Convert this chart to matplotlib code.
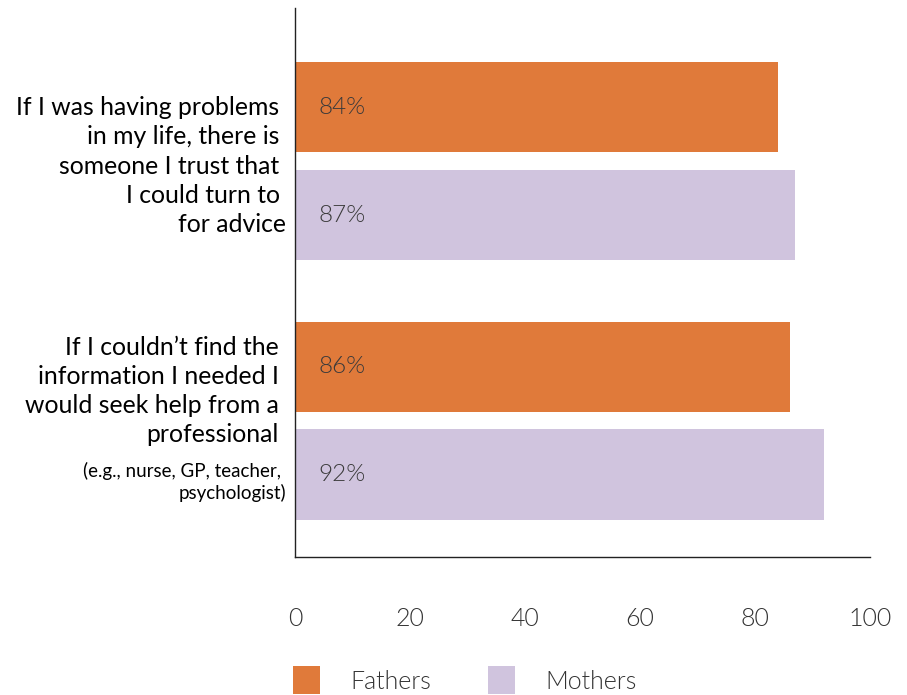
import matplotlib
matplotlib.use("Agg")
import matplotlib.pyplot as plt
from matplotlib.patches import Patch

plt.rcParams['font.family'] = ['Lato', 'DejaVu Sans']

questions = [
    "If I was having problems \nin my life, there is \nsomeone I trust that \nI could turn to \nfor advice",
    "If I couldn\u2019t find the\ninformation I needed I\nwould seek help from a\nprofessional",
]
question_notes = ["", "(e.g., nurse, GP, teacher, \npsychologist)"]
series_names = ["Fathers", "Mothers"]
fathers = [84, 86]
mothers = [87, 92]
x_ticks = [0, 20, 40, 60, 80, 100]

colors = {"Fathers": "#E07A3A", "Mothers": "#D0C4DE"}

fig = plt.figure(figsize=(9.07, 6.95), dpi=100)
ax = fig.add_axes([295 / 907, 1 - 557 / 695, 575 / 907, 549 / 695])

bar_h = 0.347
offset = 0.208
positions = list(range(len(questions)))

for i, pos in enumerate(positions):
    for val, name, off in ((fathers[i], "Fathers", -offset), (mothers[i], "Mothers", offset)):
        ax.barh(pos + off, val, height=bar_h, color=colors[name], edgecolor="none")
        ax.text(4, pos + off, f"{val}%", va="center", ha="left",
                fontsize=17.5, fontweight=300, color="#3a3a3a")

ax.set_xlim(0, 100)
ax.set_ylim(1.526, -0.59)
ax.set_xticks(x_ticks)
ax.set_xticklabels([str(t) for t in x_ticks], fontsize=18, fontweight=300, color="#333333")
ax.tick_params(axis="x", length=0, pad=36)
ax.set_yticks([])

for side in ("top", "right"):
    ax.spines[side].set_visible(False)
for side in ("left", "bottom"):
    ax.spines[side].set_color("#222222")
    ax.spines[side].set_linewidth(1.0)

# question labels, right-aligned just left of the axis
ytrans = ax.get_yaxis_transform()
ax.text(-0.0158, 0.02, questions[0], transform=ytrans,
        ha="right", va="center", fontsize=17.8, color="#000000", linespacing=1.33,
        multialignment="right")
ax.text(-0.028, 1 - 0.114, questions[1], transform=ytrans,
        ha="right", va="center", fontsize=17.8, color="#000000", linespacing=1.33,
        multialignment="right")
ax.text(-0.016, 1 + 0.237, question_notes[1], transform=ytrans,
        ha="right", va="center", fontsize=13.5, color="#000000", linespacing=1.3,
        multialignment="right")

handles = [Patch(facecolor=colors[n], edgecolor="none", label=n) for n in series_names]
fig.legend(handles=handles, loc="upper left", bbox_to_anchor=(293 / 907, 1 - 666 / 695),
           ncol=2, frameon=False, prop={"weight": 300, "size": 18},
           handlelength=1.08, handleheight=1.37, handletextpad=1.2,
           columnspacing=2.28, borderpad=0, borderaxespad=0, labelcolor="#333333")

fig.savefig("out.png", dpi=100)
